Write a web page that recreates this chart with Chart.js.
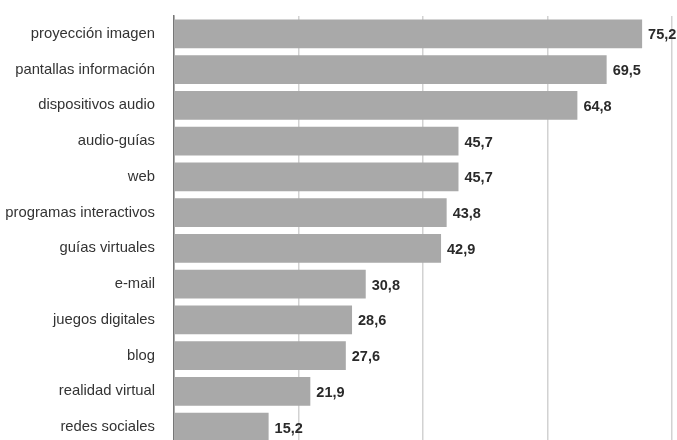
<!DOCTYPE html>
<html>
<head>
<meta charset="utf-8">
<script src="https://cdn.jsdelivr.net/npm/chart.js@4"></script>
<style>
    html, body { margin: 0; padding: 0; background: #fff; overflow: hidden; }
    .chart_box { position: relative; width: 677px; height: 445px; }
</style>
</head>
<body>
<div class="chart_box">
    <canvas id="myChart"></canvas>
</div>
<script>
const categories = [
    'proyección imagen', 'pantallas información', 'dispositivos audio', 'audio-guías',
    'web', 'programas interactivos', 'guías virtuales', 'e-mail',
    'juegos digitales', 'blog', 'realidad virtual', 'redes sociales'
];
const values = [75.2, 69.5, 64.8, 45.7, 45.7, 43.8, 42.9, 30.8, 28.6, 27.6, 21.9, 15.2];
const xTicks = [0, 20, 40, 60, 80];

// etiquetas de valor al final de cada barra
const valueLabels = {
    id: 'valueLabels',
    afterDatasetsDraw(chart) {
        const ctx = chart.ctx;
        const meta = chart.getDatasetMeta(0);
        ctx.save();
        ctx.font = 'bold 14.5px "Liberation Sans", Arial, sans-serif';
        ctx.fillStyle = '#2a2a2a';
        ctx.textAlign = 'left';
        ctx.textBaseline = 'middle';
        meta.data.forEach(function (bar, i) {
            const txt = values[i].toFixed(1).replace('.', ',');
            ctx.fillText(txt, bar.x + 6, bar.y + 1.5);
        });
        ctx.restore();
    }
};

const ctx = document.getElementById('myChart');
new Chart(ctx, {
    type: 'bar',
    data: {
        labels: categories,
        datasets: [{
            data: values,
            backgroundColor: '#a9a9a9',
            borderWidth: 0,
            barPercentage: 0.81,
            categoryPercentage: 1
        }]
    },
    options: {
        indexAxis: 'y',
        responsive: true,
        maintainAspectRatio: false,
        animation: false,
        layout: { padding: { top: 16, right: 5, bottom: 0, left: 0 } },
        plugins: {
            legend: { display: false },
            tooltip: { enabled: false }
        },
        scales: {
            x: {
                min: xTicks[0],
                max: xTicks[xTicks.length - 1],
                afterBuildTicks: function (axis) {
                    axis.ticks = xTicks.map(v => ({ value: v }));
                },
                afterFit: function (axis) { axis.height = 0; axis.paddingLeft = 0; axis.paddingRight = 0; },
                ticks: { display: false },
                grid: { color: '#d2d2d2', lineWidth: 1.5, drawTicks: false },
                border: { display: false }
            },
            y: {
                afterFit: function (axis) {
                    axis.width = 174;
                    axis.paddingTop = 0;
                    axis.paddingBottom = 0;
                },
                ticks: {
                    padding: 19,
                    color: '#333',
                    font: { family: '"Liberation Sans", Arial, sans-serif', size: 14.8 }
                },
                grid: { display: false, drawTicks: false },
                border: { display: true, color: '#777', width: 1.5 }
            }
        }
    },
    plugins: [valueLabels]
});
</script>
</body>
</html>
